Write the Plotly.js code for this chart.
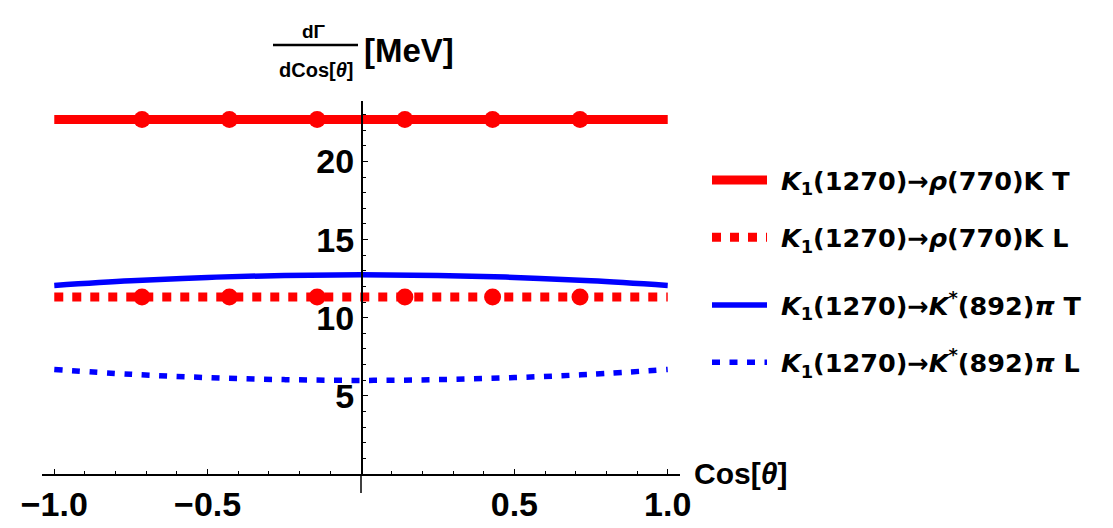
<!DOCTYPE html>
<html>
<head>
<meta charset="utf-8">
<script src="https://cdn.plot.ly/plotly-3.0.1.min.js"></script>
<style>body{margin:0;background:#fff}</style>
</head>
<body>
<div id="plot" style="width:1113px;height:528px"></div>
<script>
// dGamma/dCos[theta] for K1(1270) decays (MeV)
var lineEnds = [-1, 1];
var rhoK_T = [22.68, 22.68];
var rhoK_L = [11.32, 11.32];

var dotCos = [-0.714, -0.429, -0.143, 0.143, 0.429, 0.714];
var dotRhoK_T = [22.68, 22.68, 22.68, 22.68, 22.68, 22.68];
var dotRhoK_L = [11.32, 11.32, 11.32, 11.32, 11.32, 11.32];

var cosTheta = [-1, -0.75, -0.5, -0.25, 0, 0.25, 0.5, 0.75, 1];
var kstarPi_T = [12.07, 12.36, 12.58, 12.71, 12.75, 12.71, 12.58, 12.36, 12.07];
var kstarPi_L = [6.69, 6.38, 6.17, 6.04, 5.99, 6.04, 6.17, 6.38, 6.69];

var ARROW = '→';
var names = [
    '\u00a0<i>K</i><sub>1</sub>(1270)' + ARROW + '<i>ρ</i>(770)K T',
    '\u00a0<i>K</i><sub>1</sub>(1270)' + ARROW + '<i>ρ</i>(770)K L',
    '\u00a0<i>K</i><sub>1</sub>(1270)' + ARROW + '<i>K</i><sup>*</sup>(892)<i>π</i> T',
    '\u00a0<i>K</i><sub>1</sub>(1270)' + ARROW + '<i>K</i><sup>*</sup>(892)<i>π</i> L'
];
var xTicks = [-1, -0.5, 0.5, 1];
var xTickText = ['−1.0', '−0.5', '0.5', '1.0'];
var yTicks = [5, 10, 15, 20];

var RED = '#ff0000', BLUE = '#0000ff';
var FONT = 'Liberation Sans, Arial, sans-serif';
var LEGFONT = 'DejaVu Sans, sans-serif';

//plot area in pixels, used to place the hand made labels
var L = 42, R = 680, T = 101, B = 474;
function px(x) { return (x - L) / (R - L); }
function py(y) { return (B - y) / (B - T); }

var data = [
    { x: lineEnds, y: rhoK_T, mode: 'lines', name: names[0],
      line: {color: RED, width: 9}, legend: 'legend', legendgroup: 'a' },
    { x: lineEnds, y: rhoK_L, mode: 'lines', name: names[1],
      line: {color: RED, width: 9, dash: '9px,9px'}, legend: 'legend', legendgroup: 'b' },
    { x: cosTheta, y: kstarPi_T, mode: 'lines', name: names[2], line: {color: BLUE, width: 5.5, shape: 'spline'},
      legend: 'legend2', legendgroup: 'c' },
    { x: cosTheta, y: kstarPi_L, mode: 'lines', name: names[3],
      line: {color: BLUE, width: 5.5, dash: '8px,9.5px', shape: 'spline'}, legend: 'legend2', legendgroup: 'd' },
    { x: dotCos, y: dotRhoK_T, mode: 'markers', showlegend: false,
      marker: {color: RED, size: 17} },
    { x: dotCos, y: dotRhoK_L, mode: 'markers', showlegend: false,
      marker: {color: RED, size: 17} }
];

var legendStyle = function(ytop) {
    return { xref: 'container', yref: 'container', x: 707 / 1113, y: 1 - ytop / 528,
      xanchor: 'left', yanchor: 'top', bgcolor: 'rgba(0,0,0,0)', itemwidth: 55,
      traceorder: 'grouped', tracegroupgap: 21,
      font: {family: LEGFONT, size: 25.5, weight: 'bold', color: '#000'} };
};

var layout = {
    width: 1113, height: 528,
    margin: {l: L, r: 1113 - R, t: T, b: 528 - B},
    paper_bgcolor: '#fff', plot_bgcolor: '#fff',
    showlegend: true,
    legend: legendStyle(157),
    legend2: legendStyle(282),
    xaxis: {
      range: [-1.04, 1.04], showgrid: false, zeroline: false,
      showline: true, linecolor: '#000', linewidth: 1.5,
      tickmode: 'array', tickvals: xTicks, ticktext: xTickText,
      ticks: 'inside', ticklen: 5, tickwidth: 1, tickcolor: '#000',
      minor: {dtick: 0.1, tick0: 0, ticks: 'inside', ticklen: 3, tickcolor: '#000'},
      tickfont: {family: FONT, size: 34, weight: 'bold', color: '#000'}
    },
    yaxis: {
      range: [0, 23.87], showgrid: false, zeroline: false,
      anchor: 'free', position: 0.5,
      showline: true, linecolor: '#000', linewidth: 1.5,
      tickmode: 'array', tickvals: yTicks,
      ticks: 'inside', ticklen: 5, tickwidth: 1, tickcolor: '#000',
      minor: {dtick: 1, tick0: 0, ticks: 'inside', ticklen: 3, tickcolor: '#000'},
      tickfont: {family: FONT, size: 34, weight: 'bold', color: '#000'}
    },
    shapes: [
      //y axis runs a little below the x axis
      { type: 'line', xref: 'paper', yref: 'paper', x0: 0.5, x1: 0.5, y0: 0, y1: py(493),
        line: {color: '#000', width: 1.5} },
      //fraction bar of the y label
      { type: 'line', xref: 'paper', yref: 'paper', x0: px(273), x1: px(358), y0: py(45), y1: py(45),
        line: {color: '#000', width: 2.5} }
    ],
    annotations: [
      { xref: 'paper', yref: 'paper', x: px(314), y: py(31), xanchor: 'center', yanchor: 'middle',
        text: 'dΓ', showarrow: false,
        font: {family: FONT, size: 19, weight: 'bold', color: '#000'} },
      { xref: 'paper', yref: 'paper', x: px(316), y: py(70), xanchor: 'center', yanchor: 'middle',
        text: 'dCos[<i>θ</i>]', showarrow: false,
        font: {family: FONT, size: 20, weight: 'bold', color: '#000'} },
      { xref: 'paper', yref: 'paper', x: px(362), y: py(51), xanchor: 'left', yanchor: 'middle',
        text: '[MeV]', showarrow: false,
        font: {family: FONT, size: 33, weight: 'bold', color: '#000'} },
      { xref: 'paper', yref: 'paper', x: px(692), y: py(473), xanchor: 'left', yanchor: 'middle',
        text: 'Cos[<i>θ</i>]', showarrow: false,
        font: {family: FONT, size: 30, weight: 'bold', color: '#000'} }
    ]
};

Plotly.newPlot('plot', data, layout, {displayModeBar: false, staticPlot: true});
</script>
</body>
</html>
